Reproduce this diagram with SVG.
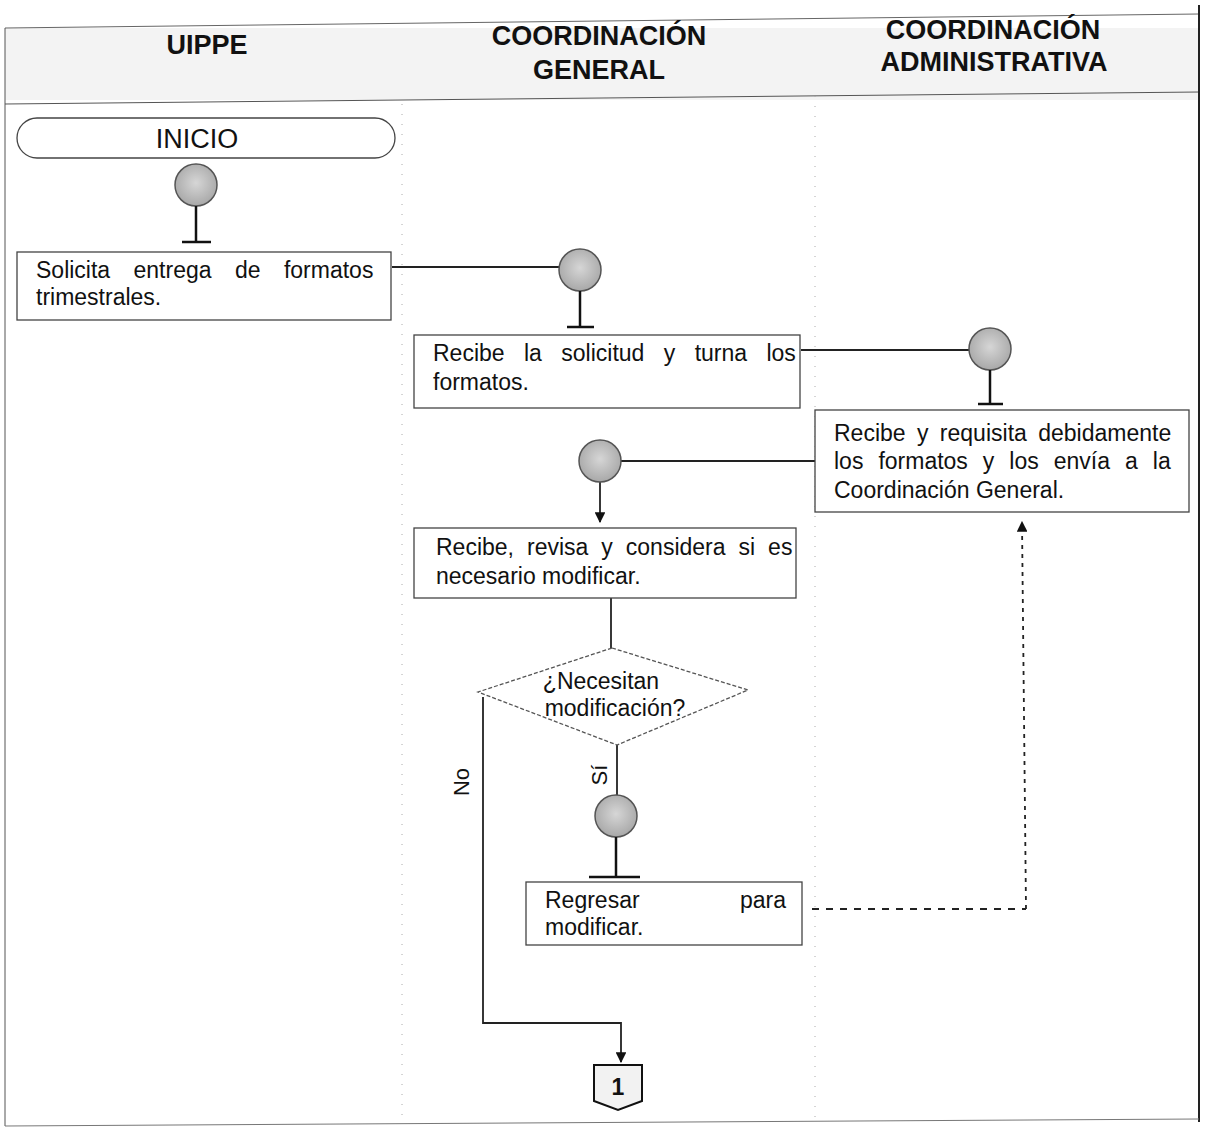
<svg xmlns="http://www.w3.org/2000/svg" width="1211" height="1138" viewBox="0 0 1211 1138">
<defs>
<style>
.hdr{font-family:"Liberation Sans",Arial,sans-serif;font-weight:bold;font-size:27px;fill:#111;text-anchor:middle}
.txt{font-family:"Liberation Sans",Arial,sans-serif;font-size:23px;fill:#111}
.lbl{font-family:"Liberation Sans",Arial,sans-serif;font-size:22px;fill:#111;text-anchor:middle}
.box{fill:#fff;stroke:#444;stroke-width:1.3}
.dot{stroke:#555;stroke-width:1.5}
.stem{stroke:#111;stroke-width:2.5;fill:none}
.ln{stroke:#222;stroke-width:1.8;fill:none}
.lane{stroke:#aaa;stroke-width:1;stroke-dasharray:1 9}
</style>
<radialGradient id="g" cx="50%" cy="45%" r="55%">
<stop offset="0" stop-color="#d6d6d6"/>
<stop offset="1" stop-color="#a8a8a8"/>
</radialGradient>
<marker id="arr" viewBox="0 0 10 10" refX="9" refY="5" markerWidth="6" markerHeight="6" orient="auto">
<path d="M0,0 L10,5 L0,10 z" fill="#111"/>
</marker>
</defs>
<rect width="1211" height="1138" fill="#fff"/>
<!-- frame and header -->
<rect x="5" y="28" width="1194" height="72" fill="#f3f3f3"/>
<line x1="5" y1="28" x2="1199" y2="14" stroke="#666" stroke-width="1"/>
<line x1="5" y1="104" x2="1199" y2="92" stroke="#555" stroke-width="1"/>
<line x1="5" y1="28" x2="5" y2="1126" stroke="#555" stroke-width="1"/>
<line x1="1199" y1="5" x2="1199" y2="1122" stroke="#222" stroke-width="2"/>
<line x1="5" y1="1126" x2="1199" y2="1119" stroke="#777" stroke-width="1"/>
<line class="lane" x1="402" y1="104" x2="402" y2="1124"/>
<line class="lane" x1="815" y1="96" x2="815" y2="1122"/>
<text class="hdr" x="207" y="54">UIPPE</text>
<text class="hdr" x="599" y="45">COORDINACIÓN</text>
<text class="hdr" x="599" y="79">GENERAL</text>
<text class="hdr" x="993" y="39">COORDINACIÓN</text>
<text class="hdr" x="994" y="71">ADMINISTRATIVA</text>

<!-- connectors -->
<g id="connectors">
<line class="ln" x1="392" y1="267" x2="560" y2="267"/>
<line class="ln" x1="801" y1="350" x2="969" y2="350"/>
<line class="ln" x1="815" y1="461" x2="621" y2="461"/>
<line class="ln" x1="600" y1="482" x2="600" y2="522" stroke-width="2.5" marker-end="url(#arr)"/>
<line class="ln" x1="611" y1="598" x2="611" y2="648" stroke-width="2.5"/>
<line class="ln" x1="617" y1="745" x2="617" y2="795" stroke-width="2.5"/>
<polyline class="ln" points="483,697 483,1023 621,1023 621,1062" stroke-width="2.5" marker-end="url(#arr)"/>
<polyline class="ln" points="812,909 1026,909" stroke-dasharray="7 7" stroke-width="1.8"/>
<line class="ln" x1="1026" y1="909" x2="1022" y2="522" stroke-dasharray="4 5" stroke-width="2" marker-end="url(#arr)"/>
<text class="lbl" transform="translate(607,775) rotate(-90)">Sí</text>
<text class="lbl" transform="translate(469,782) rotate(-90)">No</text>
</g>

<g id="inicio">
<rect x="17" y="118" width="378" height="40" rx="20" ry="20" fill="#fff" stroke="#444" stroke-width="1.3"/>
<text x="197" y="148" font-family="'Liberation Sans',Arial,sans-serif" font-size="27" fill="#111" text-anchor="middle">INICIO</text>
</g>

<g id="dot1">
<circle class="dot" cx="196" cy="185" r="21" fill="url(#g)"/>
<line class="stem" x1="196" y1="206" x2="196" y2="241"/>
<line class="stem" x1="182" y1="242" x2="211" y2="242"/>
</g>

<g id="n1">
<rect class="box" x="17" y="252" width="374" height="68"/>
<text class="txt" x="36" y="278" word-spacing="17">Solicita entrega de formatos</text>
<text class="txt" x="36" y="305">trimestrales.</text>
</g>

<g id="dot2">
<circle class="dot" cx="580" cy="270" r="21" fill="url(#g)"/>
<line class="stem" x1="580" y1="291" x2="580" y2="326"/>
<line class="stem" x1="567" y1="327" x2="594" y2="327"/>
</g>

<g id="n2">
<rect class="box" x="414" y="335" width="386" height="73"/>
<text class="txt" x="433" y="361" word-spacing="13">Recibe la solicitud y turna los</text>
<text class="txt" x="433" y="390">formatos.</text>
</g>

<g id="dot3">
<circle class="dot" cx="990" cy="349" r="21" fill="url(#g)"/>
<line class="stem" x1="990" y1="370" x2="990" y2="403"/>
<line class="stem" x1="978" y1="404" x2="1003" y2="404"/>
</g>

<g id="n3">
<rect class="box" x="815" y="410" width="374" height="102"/>
<text class="txt" x="834" y="441" word-spacing="5">Recibe y requisita debidamente</text>
<text class="txt" x="834" y="469" word-spacing="8.6">los formatos y los envía a la</text>
<text class="txt" x="834" y="498">Coordinación General.</text>
</g>

<g id="dot4">
<circle class="dot" cx="600" cy="461" r="21" fill="url(#g)"/>
</g>

<g id="n4">
<rect class="box" x="414" y="528" width="382" height="70"/>
<text class="txt" x="436" y="555" word-spacing="6.6">Recibe, revisa y considera si es</text>
<text class="txt" x="436" y="584">necesario modificar.</text>
</g>

<g id="decision">
<polygon points="612,648 748,690 617,745 478,692" fill="#fff" stroke="#555" stroke-width="1.3" stroke-dasharray="4 2"/>
<text class="txt" x="601" y="689" text-anchor="middle">¿Necesitan</text>
<text class="txt" x="615" y="716" text-anchor="middle">modificación?</text>
</g>

<g id="dot5">
<circle class="dot" cx="616" cy="816" r="21" fill="url(#g)"/>
<line class="stem" x1="616" y1="837" x2="616" y2="876"/>
<line class="stem" x1="589" y1="877" x2="640" y2="877"/>
</g>

<g id="n5">
<rect class="box" x="526" y="882" width="276" height="63"/>
<text class="txt" x="545" y="908">Regresar</text>
<text class="txt" x="786" y="908" text-anchor="end">para</text>
<text class="txt" x="545" y="935">modificar.</text>
</g>

<g id="offpage">
<polygon points="594,1065 642,1065 642,1101 618,1110 594,1101" fill="#f2f2f2" stroke="#111" stroke-width="2"/>
<text class="txt" x="618" y="1095" text-anchor="middle" font-size="17" font-weight="bold">1</text>
</g>
</svg>
